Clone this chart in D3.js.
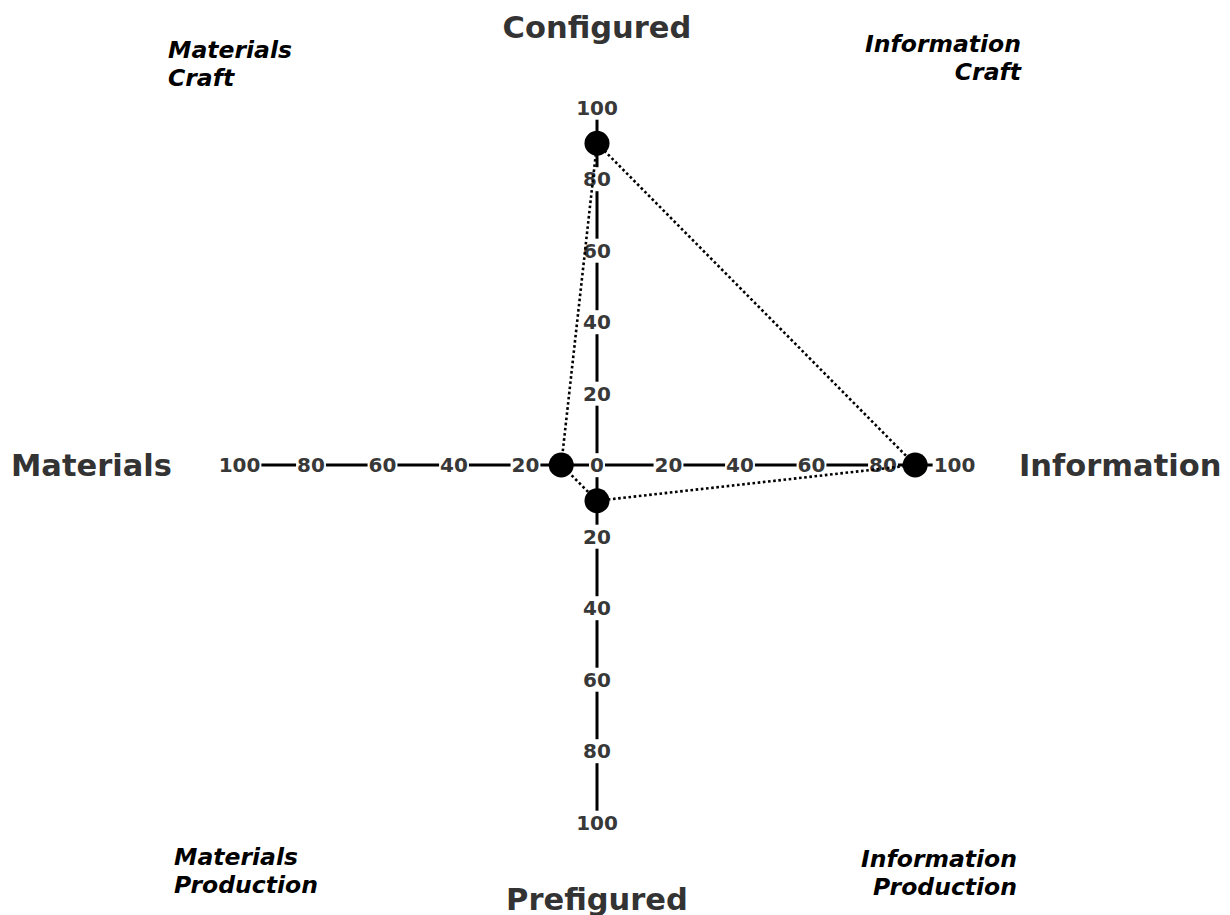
<!DOCTYPE html>
<html><head><meta charset="utf-8">
<script src="https://cdn.jsdelivr.net/npm/d3@7"></script>
<style>body{margin:0;background:#fff}svg{display:block}</style>
</head><body>
<script>
const axes = ["Configured", "Information", "Prefigured", "Materials"];
const values = [90, 89, 10, 10];
const tickValues = [20, 40, 60, 80, 100];
const quadrantLabels = [["Materials", "Craft"], ["Information", "Craft"], ["Materials", "Production"], ["Information", "Production"]];

const W = 1230, H = 915, cx = 597, cy = 465, R = 357.5;
const svg = d3.select("body").append("svg").attr("width", W).attr("height", H);
const font = "'DejaVu Sans', Verdana, sans-serif";
const r = d3.scaleLinear().domain([0, 100]).range([0, R]);

const dirs = {Configured: [0, -1], Information: [1, 0], Prefigured: [0, 1], Materials: [-1, 0]};
const pos = (axis, v) => [cx + dirs[axis][0] * r(v), cy + dirs[axis][1] * r(v)];

const g = svg.append("g");
g.append("line").attr("x1", pos("Materials", 100)[0]).attr("y1", cy).attr("x2", pos("Information", 100)[0]).attr("y2", cy)
  .attr("stroke", "#000").attr("stroke-width", 3);
g.append("line").attr("x1", cx).attr("y1", pos("Configured", 100)[1]).attr("x2", cx).attr("y2", pos("Prefigured", 100)[1])
  .attr("stroke", "#000").attr("stroke-width", 3);

const ticks = [{axis: "Configured", v: 0}];
axes.forEach(a => tickValues.forEach(v => ticks.push({axis: a, v})));
const tg = g.append("g");
ticks.forEach(t => {
  const [x, y] = pos(t.axis, t.v);
  const gg = tg.append("g");
  const txt = gg.append("text").attr("x", x).attr("y", y).attr("text-anchor", "middle").attr("dy", "0.36em")
    .attr("font-family", font).attr("font-weight", "bold").attr("font-size", 20).attr("fill", "#383838").text(t.v);
  const bb = txt.node().getBBox();
  gg.insert("rect", "text").attr("x", bb.x - 1).attr("y", bb.y).attr("width", bb.width + 2).attr("height", bb.height).attr("fill", "#fff");
});

const pts = axes.map((a, i) => pos(a, values[i]));
g.append("path").attr("d", d3.line()(pts) + "Z").attr("fill", "none").attr("stroke", "#000")
  .attr("stroke-width", 2.6).attr("stroke-dasharray", "2.6,2.6");
g.selectAll("circle.pt").data(pts).join("circle").attr("cx", d => d[0]).attr("cy", d => d[1]).attr("r", 12.5).attr("fill", "#000");

const titleStyle = s => s.attr("font-family", font).attr("font-weight", "bold").attr("font-size", 30.5).attr("fill", "#333");
svg.append("text").attr("x", cx).attr("y", 38).attr("text-anchor", "middle").call(titleStyle).text(axes[0]);
svg.append("text").attr("x", 1019).attr("y", 476).attr("text-anchor", "start").call(titleStyle).text(axes[1]);
svg.append("text").attr("x", cx).attr("y", 910).attr("text-anchor", "middle").call(titleStyle).text(axes[2]);
svg.append("text").attr("x", 11).attr("y", 476).attr("text-anchor", "start").call(titleStyle).text(axes[3]);

const qpos = [[168, 58, "start"], [1021, 52, "end"], [174, 865, "start"], [1017, 867, "end"]];
quadrantLabels.forEach((lines, i) => {
  const [x, y, anchor] = qpos[i];
  const t = svg.append("text").attr("x", x).attr("y", y).attr("text-anchor", anchor)
    .attr("font-family", font).attr("font-weight", "bold").attr("font-style", "italic").attr("font-size", 23.5).attr("fill", "#000");
  lines.forEach((l, j) => t.append("tspan").attr("x", x).attr("dy", j === 0 ? 0 : 28).text(l));
});
</script>
</body></html>
